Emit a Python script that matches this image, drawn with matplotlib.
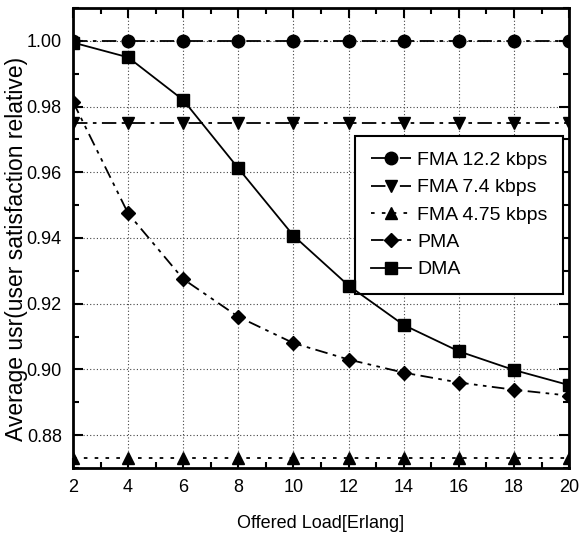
import matplotlib as mpl
import matplotlib.pyplot as plt
from matplotlib.ticker import MultipleLocator

mpl.rcParams['font.family'] = ['Liberation Sans', 'DejaVu Sans']

# data
load = [2, 4, 6, 8, 10, 12, 14, 16, 18, 20]
fma_122 = [1.0, 1.0, 1.0, 1.0, 1.0, 1.0, 1.0, 1.0, 1.0, 1.0]
fma_74 = [0.975, 0.975, 0.975, 0.975, 0.975, 0.975, 0.975, 0.975, 0.975, 0.975]
fma_475 = [0.873, 0.873, 0.873, 0.873, 0.873, 0.873, 0.873, 0.873, 0.873, 0.873]
pma = [0.9815, 0.9475, 0.9275, 0.916, 0.908, 0.903, 0.899, 0.896, 0.8938, 0.892]
dma = [0.9995, 0.995, 0.982, 0.9612, 0.9407, 0.9255, 0.9135, 0.9055, 0.8998, 0.8952]
labels = ['FMA 12.2 kbps', 'FMA 7.4 kbps', 'FMA 4.75 kbps', 'PMA', 'DMA']

fig = plt.figure(figsize=(5.79, 5.36), dpi=100)
ax = fig.add_axes([0.126, 0.127, 0.857, 0.858])

ms = 9
ax.plot(load, fma_122, color='black', linestyle=(0, (8, 3, 2, 3)), lw=1.3,
        marker='o', ms=ms, label=labels[0], zorder=3)
ax.plot(load, fma_74, color='black', linestyle=(0, (8, 3, 2, 3)), lw=1.3,
        marker='v', ms=ms, label=labels[1], zorder=3)
ax.plot(load, fma_475, color='black', linestyle=(0, (2, 4)), lw=1.3,
        marker='^', ms=ms, label=labels[2], zorder=3)
ax.plot(load, pma, color='black', linestyle=(0, (7, 3, 2, 3, 2, 3)), lw=1.3,
        marker='D', ms=ms - 1.5, label=labels[3], zorder=3)
ax.plot(load, dma, color='black', linestyle='-', lw=1.3,
        marker='s', ms=ms - 1, label=labels[4], zorder=3)

ax.set_xlim(2, 20)
ax.set_ylim(0.87, 1.01)
ax.xaxis.set_major_locator(MultipleLocator(2))
ax.xaxis.set_minor_locator(MultipleLocator(1))
ax.yaxis.set_major_locator(MultipleLocator(0.02))
ax.yaxis.set_minor_locator(MultipleLocator(0.01))
ax.yaxis.set_major_formatter(mpl.ticker.FormatStrFormatter('%.2f'))

ax.tick_params(which='both', direction='in', top=True, right=True, labelsize=13, width=1.5)
ax.tick_params(which='major', length=7, pad=8)
ax.tick_params(which='minor', length=4)
for s in ax.spines.values():
    s.set_linewidth(2)

ax.grid(True, which='major', color='#444444', linestyle=(0, (1, 2)), lw=0.8)

ax.set_xlabel('Offered Load[Erlang]', fontsize=13, labelpad=14)
ax.set_ylabel('Average usr(user satisfaction relative)', fontsize=16.5)
ax.yaxis.set_label_coords(-0.09, 0.476)

leg = ax.legend(loc='upper right', bbox_to_anchor=(0.988, 0.722), borderaxespad=0,
                fontsize=14, fancybox=False, edgecolor='black', framealpha=1,
                handlelength=2.1, handletextpad=0.3, labelspacing=0.5, borderpad=0.8)
leg.get_frame().set_linewidth(1.5)
leg.set_zorder(2)

plt.savefig('out.png', dpi=100)
